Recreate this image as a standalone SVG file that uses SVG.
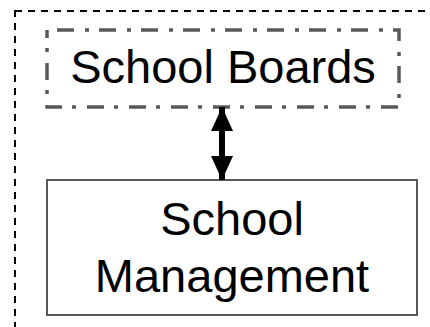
<svg xmlns="http://www.w3.org/2000/svg" width="430" height="327" viewBox="0 0 430 327">
<defs>
<style>
.lbl{font-family:"Liberation Sans",Arial,sans-serif;font-size:47px;fill:#000;text-anchor:middle}
</style>
<marker id="ah" viewBox="0 0 24 22" refX="24" refY="11" markerWidth="24" markerHeight="22" markerUnits="userSpaceOnUse" orient="auto-start-reverse">
<path d="M0,0 L24,11 L0,22 Z" fill="#000"/>
</marker>
</defs>
<rect width="430" height="327" fill="#fff"/>
<g id="container">
<rect x="15" y="11" width="430" height="340" fill="none" stroke="#000" stroke-width="2" stroke-dasharray="7 6"/>
</g>
<g id="school-boards">
<rect x="47" y="30" width="352" height="77" fill="none" stroke="#595959" stroke-width="3.5" stroke-dasharray="17 11 4 10" stroke-dashoffset="32"/>
<text class="lbl" x="223" y="83">School Boards</text>
</g>
<g id="school-management">
<rect x="47" y="180" width="370" height="135" fill="none" stroke="#595959" stroke-width="2"/>
<text class="lbl" x="232" y="235">School</text>
<text class="lbl" x="232" y="292">Management</text>
</g>
<g id="connectors">
<line x1="222" y1="107" x2="222" y2="180" stroke="#000" stroke-width="6" marker-start="url(#ah)" marker-end="url(#ah)"/>
</g>
</svg>
